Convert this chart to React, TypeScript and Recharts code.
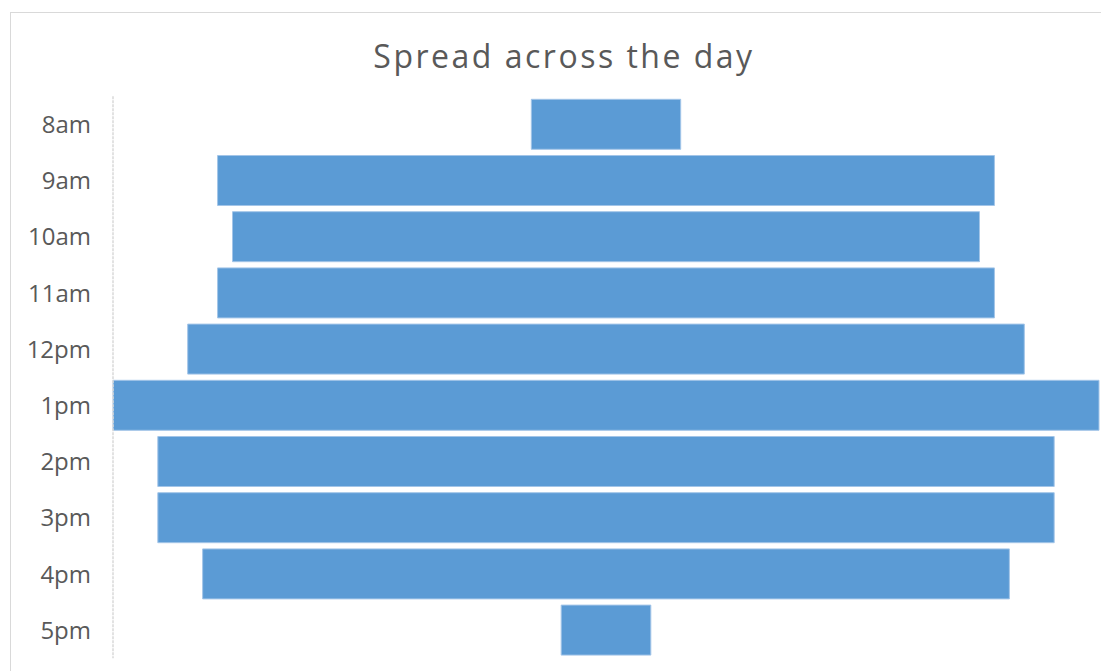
import React from 'react';
import { BarChart, Bar, XAxis, YAxis } from 'recharts';

const categories = ['8am', '9am', '10am', '11am', '12pm', '1pm', '2pm', '3pm', '4pm', '5pm'];
const values = [10, 52, 50, 52, 56, 66, 60, 60, 54, 6];
const maxValue = 66;
const title = 'Spread across the day';

const data = categories.map((hour, i) => ({
  hour,
  offset: (maxValue - values[i]) / 2,
  value: values[i],
}));

export default function App() {
  return (
    <div style={{ position: 'relative', width: 1101, height: 663, overflow: 'hidden', background: '#fff' }}>
      <div
        style={{
          position: 'absolute',
          left: 2,
          top: 4,
          width: 3000,
          height: 3000,
          borderTop: '1px solid #d9d9d9',
          borderLeft: '1px solid #d9d9d9',
        }}
      />
      <div
        style={{
          position: 'absolute',
          left: 0,
          width: 1112,
          top: 31.6,
          textAlign: 'center',
          fontFamily: '"Open Sans", sans-serif',
          fontSize: 32,
          lineHeight: 1,
          color: '#595959',
          letterSpacing: 2.5,
          whiteSpace: 'nowrap',
        }}
      >
        {title}
      </div>
      <div style={{ position: 'absolute', left: 0, top: 0 }}>
        <BarChart
          width={1101}
          height={663}
          data={data}
          layout="vertical"
          margin={{ top: 88.3, right: 10, bottom: 12.7, left: 0 }}
          barCategoryGap={3}
        >
          <XAxis type="number" hide domain={[0, maxValue]} />
          <YAxis
            type="category"
            dataKey="hour"
            width={105}
            axisLine={{ stroke: '#d9d9d9', strokeWidth: 1.5, strokeDasharray: '3 1' }}
            tickLine={false}
            tickMargin={16}
            tick={{ fill: '#595959', fontSize: 24, fontFamily: '"Open Sans", sans-serif' }}
            interval={0}
          />
          <Bar dataKey="offset" stackId="a" fill="transparent" isAnimationActive={false} />
          <Bar
            dataKey="value"
            stackId="a"
            fill="#5b9bd5"
            stroke="#a3c5e8"
            strokeWidth={1}
            isAnimationActive={false}
          />
        </BarChart>
      </div>
    </div>
  );
}
